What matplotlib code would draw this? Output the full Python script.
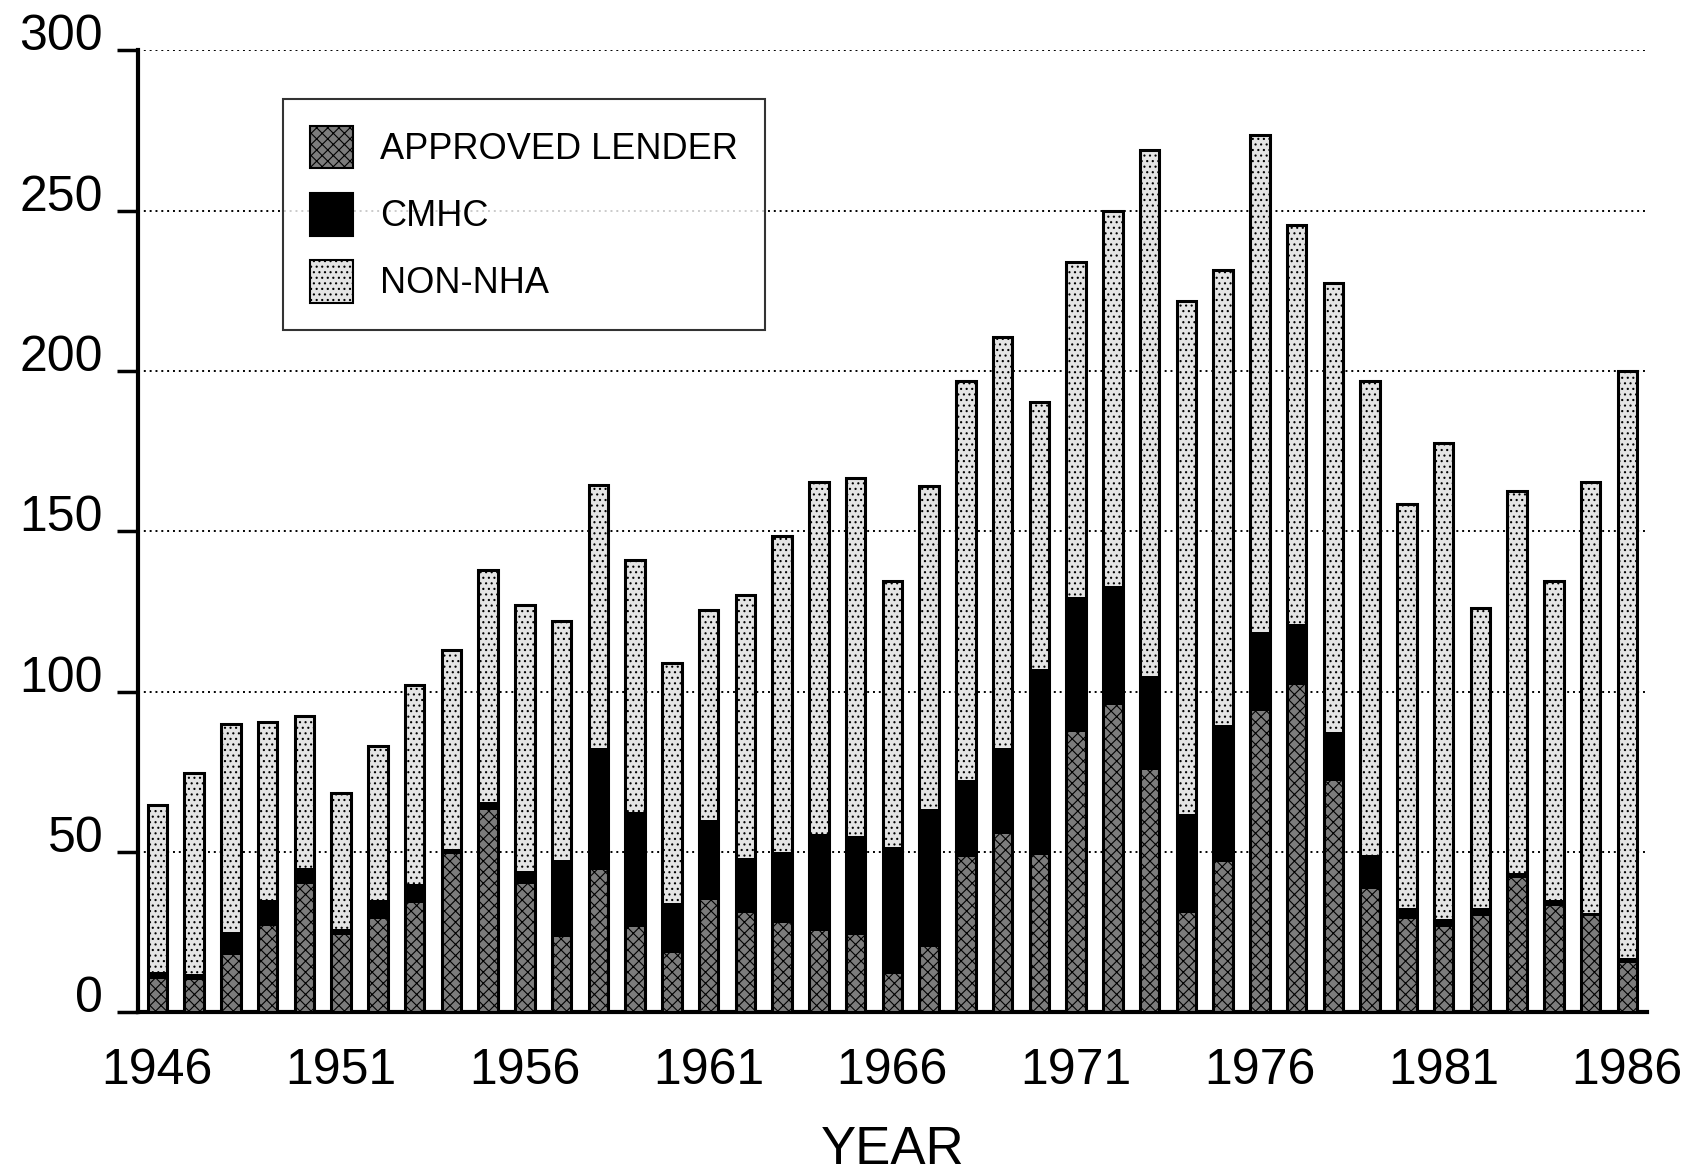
import numpy as np
import matplotlib
matplotlib.use('Agg')
import matplotlib.pyplot as plt
import matplotlib.patches as mpatches

years = list(range(1946, 1987))

approved_lender = [
    10.5, 10, 18, 27, 40, 24, 29, 34, 49.5, 63,
    40, 23.5, 44.5, 26.5, 18.5, 35, 31, 28, 25.5, 24,
    12, 20.5, 48.5, 55.5, 49, 87.5, 96, 75.5, 31, 47,
    94, 102, 72, 38.5, 29, 26.5, 30, 42, 33, 30,
    15.5,
]

cmhc = [
    2, 2, 7, 8, 5, 2, 6, 6, 1.5, 2.5,
    4, 24, 38, 36, 15.5, 25, 17, 22, 30, 31,
    39.5, 43, 24, 27, 58, 42, 37, 29.5, 31, 42.5,
    24.5, 19, 15.5, 10.5, 3.5, 2.5, 2.5, 1.5, 2, 1,
    1.5,
]

non_nha = [
    52, 62.5, 65, 55.5, 47.5, 42.5, 48, 62, 62, 72.5,
    83, 74.5, 82, 78.5, 75, 65.5, 82, 98.5, 110, 111.5,
    83, 100.5, 124.5, 128, 83.5, 104.5, 117, 164, 160, 142,
    155, 124.5, 140, 148, 126, 148.5, 93.5, 119, 99.5, 134.5,
    183,
]

year_ticks = [1946, 1951, 1956, 1961, 1966, 1971, 1976, 1981, 1986]
y_ticks = [0, 50, 100, 150, 200, 250, 300]
legend_labels = ['APPROVED LENDER', 'CMHC', 'NON-NHA']

plt.rcParams['font.family'] = ['Liberation Sans', 'DejaVu Sans']
plt.rcParams['hatch.linewidth'] = 0.8

x = np.array(years)
al = np.array(approved_lender)
cm = np.array(cmhc)
nn = np.array(non_nha)
w = 0.53

AL_COL = '#7c7c7c'
NN_COL = '#e4e4e4'

fig = plt.figure(figsize=(17.03, 11.73), dpi=100)
ax = fig.add_axes([0.081, 0.137, 0.886, 0.820])

# stacked pieces
ax.bar(x, al, w, color=AL_COL, hatch='xxx', edgecolor='black', linewidth=0, zorder=3)
ax.bar(x, cm, w, bottom=al, color='black', edgecolor='black', linewidth=0, zorder=3)
ax.bar(x, nn, w, bottom=al + cm, color=NN_COL, hatch='...', edgecolor='black', linewidth=0, zorder=3)
# outline round each full bar
ax.bar(x, al + cm + nn, w, fill=False, edgecolor='black', linewidth=2.2, zorder=4)

ax.set_xlim(1945.47, 1986.53)
ax.set_ylim(0, 300)
ax.set_yticks(y_ticks)
ax.set_xticks(year_ticks)
ax.set_xticklabels([str(v) for v in year_ticks])
ax.yaxis.grid(True, linestyle=(0, (1, 2)), color='black', linewidth=1.4, zorder=0)
ax.set_axisbelow(True)

for s in ['top', 'right']:
    ax.spines[s].set_visible(False)
ax.spines['left'].set_linewidth(3)
ax.spines['bottom'].set_linewidth(3)

ax.tick_params(axis='y', length=15, width=2.5, direction='out', labelsize=36, pad=10)
ax.tick_params(axis='x', length=0, labelsize=36, pad=26)
for lab in ax.get_yticklabels():
    lab.set_verticalalignment('baseline')

ax.set_xlabel('YEAR', fontsize=38, labelpad=22)

handles = [
    mpatches.Patch(facecolor=AL_COL, hatch='xxx', edgecolor='black', linewidth=1.5),
    mpatches.Patch(facecolor='black', edgecolor='black', linewidth=1.5),
    mpatches.Patch(facecolor=NN_COL, hatch='...', edgecolor='black', linewidth=1.5),
]
leg = fig.legend(handles, legend_labels, loc='upper left', bbox_to_anchor=(0.166, 0.916),
                 fontsize=26, frameon=True, fancybox=False, edgecolor='black',
                 handlelength=1.2, handleheight=1.45, labelspacing=0.67,
                 borderpad=0.75, handletextpad=0.75, borderaxespad=0)
leg.get_frame().set_linewidth(1.5)

fig.savefig('out.png', dpi=100)
